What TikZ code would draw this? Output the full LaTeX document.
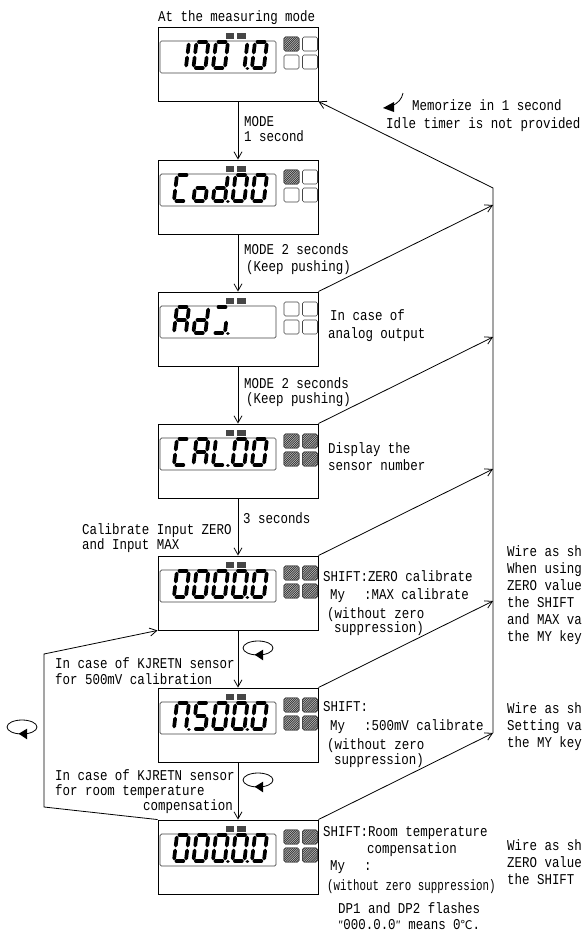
\documentclass[tikz,border=0pt]{standalone}
\usepackage{fontspec}
\setmainfont{Liberation Mono}[FakeStretch=0.83]
\newfontfamily\narrowmono{Liberation Mono}[FakeStretch=0.72]
\newfontfamily\cjkmono{Noto Sans CJK JP}
\usetikzlibrary{positioning,arrows.meta,shapes.geometric}
\definecolor{panelgris}{RGB}{70,70,70}
\definecolor{hatchgris}{RGB}{50,50,50}
\tikzset{
  panelbox/.style={draw, line width=0.9pt, minimum width=160pt, minimum height=74pt, inner sep=0pt},
  keyoff/.style={draw=panelgris, line width=0.6pt, rounded corners=1.5pt, fill=white},
  keyhatch/.style={draw=hatchgris, line width=0.7pt},
  flow/.style={line width=0.8pt, -{Straight Barb[length=7pt,width=8pt]}},
  lbl/.style={anchor=west, inner sep=0pt, yshift=-1.2pt, align=left, font=\fontsize{15}{15}\selectfont},
  rotloop/.style={draw, ellipse, line width=0.8pt, minimum width=30pt, minimum height=14pt, inner sep=0pt},
  segline/.style={line width=3.7pt, line cap=round},
  sega/.style={insert path={(2.5,0)--(9.5,0)}},
  segb/.style={insert path={(12,2.5)--(12,10.5)}},
  segc/.style={insert path={(12,15.5)--(12,23.5)}},
  segd/.style={insert path={(2.5,26)--(9.5,26)}},
  sege/.style={insert path={(0,15.5)--(0,23.5)}},
  segf/.style={insert path={(0,2.5)--(0,10.5)}},
  segg/.style={insert path={(2.5,13)--(9.5,13)}},
  segh/.style={insert path={(15,26.4)--(15.1,26.4)}},
}
\newcommand{\allkeys}{284/10,302.5/10,284/28,302.5/28}
% name, top edge, digits as pos/segments
\newcommand{\meterpanel}[3]{
  \node[panelbox] (#1) at (238,#2+37) {};
  \draw[panelgris, line width=0.7pt, rounded corners=1.5pt] (160,#2+14) rectangle (276,#2+46);
  \fill[panelgris] (226,#2+6) rectangle (234,#2+12);
  \fill[panelgris] (237,#2+6) rectangle (246,#2+12);
  \foreach \kx/\ky in \allkeys
    \draw[keyoff] (\kx,#2+\ky) rectangle (\kx+15,#2+\ky+14);
  \foreach \pos/\segs in {#3} {
    \begin{scope}[shift={(177+19.5*\pos,#2+15)},xslant=0.12]
      \foreach \s in \segs \draw[segline,seg\s];
    \end{scope}
  }
}
% top edge, keys that are lit
\newcommand{\keyslit}[2]{
  \foreach \kx/\ky in #2 {
    \begin{scope}
      \clip[rounded corners=1.5pt] (\kx,#1+\ky) rectangle (\kx+15,#1+\ky+14);
      \fill[gray!45] (\kx,#1+\ky) rectangle (\kx+15,#1+\ky+14);
      \foreach \h in {-14,-11.8,...,15}
        \draw[keyhatch] (\kx+\h,#1+\ky+14) -- (\kx+\h+14,#1+\ky);
    \end{scope}
    \draw[panelgris, line width=0.6pt, rounded corners=1.5pt] (\kx,#1+\ky) rectangle (\kx+15,#1+\ky+14);
  }
}
\newcommand{\rotmark}[3]{
  \node[rotloop] (#1) at (#2,#3) {};
  \fill ([shift={(-3.3,6.7)}]#1.center) -- ([shift={(5,1.7)}]#1.center) -- ([shift={(5,12.3)}]#1.center) -- cycle;
}
\begin{document}
\begin{tikzpicture}[x=1pt,y=-1pt]
  \useasboundingbox (0,0) rectangle (582,932);
  \fill[white] (0,0) rectangle (582,932);
  \meterpanel{measure}{27}{0/{b,c},1/{a,b,c,d,e,f},2/{a,b,c,d,e,f},3/{b,c,h},4/{a,b,c,d,e,f}}
  \meterpanel{cod}{160}{0/{a,d,e,f},1/{c,d,e,g},2/{b,c,d,e,g,h},3/{a,b,c,d,e,f},4/{a,b,c,d,e,f}}
  \meterpanel{adj}{292}{0/{a,b,c,e,f,g},1/{b,c,d,e,g},2/{a,c,d,h}}
  \meterpanel{cal}{424}{0/{a,d,e,f},1/{a,b,c,e,f,g},2/{d,e,f,h},3/{a,b,c,d,e,f},4/{a,b,c,d,e,f}}
  \meterpanel{zerocal}{556}{0/{a,b,c,d,e,f},1/{a,b,c,d,e,f},2/{a,b,c,d,e,f},3/{a,b,c,d,e,f,h},4/{a,b,c,d,e,f}}
  \meterpanel{mvcal}{688}{0/{a,b,c,e,f,h},1/{a,c,d,f,g},2/{a,b,c,d,e,f},3/{a,b,c,d,e,f,h},4/{a,b,c,d,e,f}}
  \meterpanel{roomcal}{820}{0/{a,b,c,d,e,f},1/{a,b,c,d,e,f},2/{a,b,c,d,e,f,h},3/{a,b,c,d,e,f,h},4/{a,b,c,d,e,f}}
  \keyslit{27}{{284/10}}
  \keyslit{160}{{284/10}}
  \foreach \t in {424,556,688,820} {\keyslit{\t}{\allkeys}}
  % down the chain
  \draw[flow] (measure) -- (cod);
  \draw[flow] (cod) -- (adj);
  \draw[flow] (adj) -- (cal);
  \draw[flow] (cal) -- (zerocal);
  \draw[flow] (zerocal) -- (mvcal);
  \draw[flow] (mvcal) -- (roomcal);
  % return rail on the right
  \coordinate (railtop) at (493,188);
  \coordinate (railend) at (493,733);
  \draw[flow] (railend) -- (railtop) -- (measure.south east);
  \foreach \p/\q in {adj/205,cal/337,zerocal/469,mvcal/601,roomcal/733} {
    \coordinate (rail\p) at (493,\q);
    \draw[flow] (\p.north east) -- (rail\p);
  }
  % loop on the left
  \coordinate (loopa) at (44,807);
  \coordinate (loopb) at (44,654);
  \draw[flow] (roomcal.north west) -- (loopa) -- (loopb) -- (zerocal.south west);
  \rotmark{rotzero}{258}{648}
  \rotmark{rotmv}{258}{780}
  \rotmark{rotback}{22}{727}
  % memorize mark
  \coordinate (memostart) at (403,93);
  \coordinate (memotip) at (383,108);
  \draw[line width=0.8pt] (memostart) .. controls (402,99) and (398,103) .. (392,106);
  \fill (memotip) -- (394,102) -- (394,112) -- cycle;
  % labels
  \node[lbl] (tmeasure) at (158,16) {At the measuring mode};
  \node[lbl] (tmode) at (244,127.5) {MODE\\1 second};
  \node[lbl] (tkeep) at (244,258) {MODE 2 seconds\\[2pt]\hspace*{2pt}(Keep pushing)};
  \node[lbl] (tkeepb) at (244,390.5) {MODE 2 seconds\\\hspace*{2pt}(Keep pushing)};
  \node[lbl] (tanalog) at (328,324) {\hspace*{2pt}In case of\\[3pt]analog output};
  \node[lbl] (tsensor) at (328,455.5) {Display the\\[2pt]sensor number};
  \node[lbl] (tthree) at (243,517) {3 seconds};
  \node[lbl] (tcalib) at (82,536.5) {Calibrate Input ZERO\\and Input MAX};
  \node[lbl] (tzero) at (323,601.5) {SHIFT:ZERO calibrate\\[3pt]\hspace*{7pt}My\hspace{19pt}:MAX calibrate\\[4pt]\hspace*{4pt}(without zero\\[-1pt]\hspace*{11pt}suppression)};
  \node[lbl] (tmv) at (323,733.5) {SHIFT:\\[4pt]\hspace*{7pt}My\hspace{19pt}:500mV calibrate\\[4pt]\hspace*{4pt}(without zero\\\hspace*{11pt}suppression)};
  \node[lbl] (troom) at (323,849) {SHIFT:Room temperature\\[2pt]\hspace*{44pt}compensation\\[2pt]\hspace*{7pt}My\hspace{19pt}:};
  \node[lbl, font=\fontsize{15}{15}\narrowmono] (twithout) at (327,885) {(without zero suppression)};
  \node[lbl] (tdp) at (338,915) {DP1 and DP2 flashes\\[1pt]{\cjkmono\fontsize{11}{15}\selectfont ″}000.0.0{\cjkmono\fontsize{11}{15}\selectfont ″} means 0{\cjkmono\fontsize{12}{15}\selectfont ℃}.};
  \node[lbl] (tmemo) at (386,114) {\hspace*{26pt}Memorize in 1 second\\[3pt]Idle timer is not provided};
  \node[lbl] (tmvcase) at (55,670) {In case of KJRETN sensor\\[1pt]for 500mV calibration};
  \node[lbl] (troomcase) at (55,790) {In case of KJRETN sensor\\for room temperature\\\hspace*{88pt}compensation};
  \node[lbl] (twirea) at (507,593.5) {Wire as sh\\[2pt]When using\\[2pt]ZERO value\\[2pt]the SHIFT\\[2pt]and MAX va\\[2pt]the MY key};
  \node[lbl] (twireb) at (507,725) {Wire as sh\\[2pt]Setting va\\[2pt]the MY key};
  \node[lbl] (twirec) at (507,860.5) {Wire as sh\\[2pt]ZERO value\\[2pt]the SHIFT};
\end{tikzpicture}
\end{document}
